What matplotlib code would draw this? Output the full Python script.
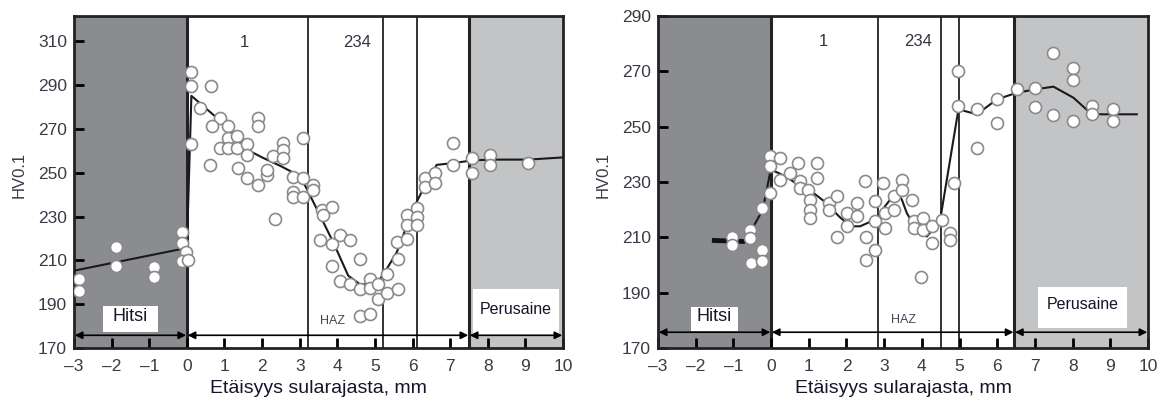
import matplotlib
matplotlib.use("Agg")
import matplotlib.pyplot as plt

plt.rcParams['font.family'] = ['Liberation Sans', 'DejaVu Sans']

# ---------------- data: left chart ----------------
L_pts_x = [-2.87, -2.87, -1.89, -1.89, -0.88, -0.88, -0.14, -0.14, -0.01, -0.14, 0.03,
           0.12, 0.12, 0.12, 0.63, 0.35, 0.88, 0.66, 1.10, 0.88, 1.10, 1.10, 1.32, 1.32,
           1.59, 1.59, 0.61, 1.37, 1.59, 1.88, 1.88, 1.88, 2.12, 2.12, 2.30, 2.56, 2.56,
           2.56, 2.34, 2.83, 2.83, 2.83, 3.09, 3.09, 3.09, 3.36, 3.36, 3.58, 3.85, 3.63,
           3.54, 3.85, 4.07, 4.34, 3.85, 4.60, 4.07, 4.34, 4.60, 4.87, 4.87, 5.09, 5.09,
           5.31, 5.31, 5.62, 4.60, 4.87, 5.58, 5.62, 5.84, 5.84, 5.84, 6.11, 6.11, 6.11,
           6.33, 6.33, 6.60, 6.60, 7.08, 7.08, 7.57, 7.57, 8.06, 8.06, 9.08]
L_pts_y = [201.7, 196.0, 216.0, 207.6, 206.8, 202.6, 222.9, 218.0, 214.0, 209.9, 210.3,
           295.9, 289.7, 262.9, 289.7, 279.4, 275.1, 271.3, 271.3, 261.3, 265.9, 261.3, 266.7, 261.3,
           262.9, 258.3, 253.6, 252.1, 247.5, 275.1, 271.3, 244.4, 249.0, 251.3, 257.5, 263.6, 260.6,
           256.7, 229.0, 248.2, 241.3, 239.0, 265.9, 247.5, 239.0, 244.4, 242.1, 232.9, 234.4, 230.6,
           219.1, 217.5, 221.4, 219.1, 207.6, 210.7, 200.6, 199.1, 196.8, 201.4, 197.6, 199.1, 192.2,
           203.7, 195.3, 196.8, 184.5, 185.3, 218.3, 210.7, 230.6, 226.0, 219.9, 233.7, 229.9, 226.0,
           247.5, 243.7, 249.8, 245.2, 263.6, 253.6, 256.7, 249.8, 258.3, 253.6, 254.4]
L_line_x = [-3.0, -0.14, 0.0, 0.12, 0.74, 1.10, 1.55, 2.0, 2.5, 3.0, 3.18, 3.45, 3.89,
            4.29, 4.60, 5.04, 5.31, 5.58, 6.02, 6.20, 6.64, 7.08, 7.57, 8.06, 9.08, 10.0]
L_line_y = [205.3, 215.2, 216.0, 285.1, 275.9, 269.8, 261.0, 257.0, 253.0, 248.5, 242.9, 233.6, 218.3,
            203.0, 199.1, 199.1, 206.0, 213.7, 233.7, 239.8, 253.6, 254.4, 255.6, 256.0, 256.0, 257.0]
L_bounds = [0.0, 3.22, 5.21, 6.12, 7.5]

# ---------------- data: right chart ----------------
R_pts_x = [-1.04, -1.04, -0.56, -0.56, -0.54, -0.25, -0.25, -0.25, -0.03, -0.03, -0.03,
           0.24, 0.24, 0.50, 0.72, 0.77, 0.77, 0.99, 1.02, 1.02, 1.02, 1.23, 1.23, 1.54,
           1.54, 1.74, 1.74, 2.01, 2.01, 2.27, 2.27, 2.49, 2.51, 2.51, 2.76, 2.76, 2.76,
           2.98, 3.02, 3.02, 3.26, 3.26, 3.47, 3.47, 3.73, 3.78, 3.78, 4.04, 4.04, 3.97,
           4.26, 4.26, 4.53, 4.75, 4.75, 4.84, 4.97, 4.97, 5.46, 5.46, 5.99, 5.99, 6.52,
           7.00, 7.00, 7.49, 7.47, 8.02, 8.02, 8.02, 8.52, 8.52, 9.08, 9.08]
R_pts_y = [210.3, 207.3, 212.8, 209.8, 200.7, 220.6, 205.5, 201.3, 239.3, 235.7, 226.1,
           238.8, 230.9, 233.3, 237.0, 230.3, 227.9, 227.3, 223.6, 220.0, 217.0, 237.0, 231.5, 222.4,
           220.0, 224.8, 210.3, 218.8, 214.0, 222.4, 217.6, 230.3, 210.3, 201.9, 223.0, 215.9, 205.6,
           229.7, 218.8, 213.4, 224.8, 220.0, 230.9, 227.3, 223.6, 215.9, 213.4, 217.0, 212.8, 195.8,
           214.0, 208.0, 216.4, 211.6, 209.1, 229.7, 270.2, 257.5, 256.3, 242.4, 259.9, 251.5, 263.5,
           264.1, 257.3, 276.8, 254.1, 271.4, 266.9, 252.0, 257.5, 254.5, 256.5, 252.0]
R_line_x = [-0.69, -0.22, -0.01, 0.24, 0.50, 0.77, 1.12, 1.45, 1.80, 2.10, 2.36, 2.76,
            3.02, 3.33, 3.47, 3.60, 3.86, 4.13, 4.48, 4.97, 5.46, 5.99, 6.52, 7.00, 7.49,
            8.02, 8.46, 8.73, 9.70]
R_line_y = [208.5, 220.0, 234.5, 233.0, 231.0, 228.5, 226.1, 222.6, 217.6, 214.0, 214.0, 216.4,
            221.2, 226.7, 223.6, 218.8, 212.8, 210.3, 215.9, 256.3, 254.5, 259.9, 262.3, 263.5, 264.5,
            260.5, 255.1, 254.5, 254.5]
R_flat_x = [-1.57, -0.69]
R_flat_y = [208.9, 208.5]
R_bounds = [0.0, 2.83, 4.51, 4.99, 6.45]

x_ticks = list(range(-3, 11))
x_labels = ['\u20133', '\u20132', '\u20131', '0', '1', '2', '3', '4', '5', '6', '7', '8', '9', '10']
L_yticks = [170, 190, 210, 230, 250, 270, 290, 310]
R_yticks = [170, 190, 210, 230, 250, 270, 290]
xlabel = 'Etäisyys sularajasta, mm'
ylabel = 'HV0.1'

DARK = '#8b8c8f'
LIGHT = '#c3c4c6'
TXT = '#3a3a46'

fig = plt.figure(figsize=(11.64, 4.03), dpi=100)
axL = fig.add_axes([0.0636, 0.1365, 0.4201, 0.8235])
axR = fig.add_axes([0.5653, 0.1365, 0.4210, 0.8235])


def draw(ax, ylim, yticks, bounds, px, py, lx, ly, hitsi_box, peru_box, arrow_y,
         haz_xy, one_xy, t234_xy, flat=None):
    ax.set_xlim(-3, 10)
    ax.set_ylim(*ylim)
    ax.axvspan(-3, 0, color=DARK, zorder=0, lw=0)
    ax.axvspan(bounds[-1], 10, color=LIGHT, zorder=0, lw=0)
    for i, b in enumerate(bounds):
        lw = 2.2 if i in (0, len(bounds) - 1) else 1.3
        ax.axvline(b, color='#222222', lw=lw, zorder=1)
    # white label boxes
    ax.add_patch(plt.Rectangle((hitsi_box[0], hitsi_box[2]), hitsi_box[1] - hitsi_box[0],
                               hitsi_box[3] - hitsi_box[2], color='white', zorder=1, lw=0))
    ax.add_patch(plt.Rectangle((peru_box[0], peru_box[2]), peru_box[1] - peru_box[0],
                               peru_box[3] - peru_box[2], color='white', zorder=1, lw=0))
    ax.text((hitsi_box[0] + hitsi_box[1]) / 2, (hitsi_box[2] + hitsi_box[3]) / 2 + 1, 'Hitsi',
            ha='center', va='center', fontsize=13, color='#15152a', zorder=2)
    ax.text((peru_box[0] + peru_box[1]) / 2, (peru_box[2] + peru_box[3]) / 2 + 1, 'Perusaine',
            ha='center', va='center', fontsize=11.5, color='#15152a', zorder=2)
    # arrows
    segs = [(-3, 0), (0, bounds[-1]), (bounds[-1], 10)]
    for a, b in segs:
        ax.annotate('', xy=(b - 0.02, arrow_y), xytext=(a + 0.02, arrow_y),
                    arrowprops=dict(arrowstyle='<|-|>', color='black', lw=1.2,
                                    mutation_scale=11, shrinkA=0, shrinkB=0), zorder=3)
    ax.text(*haz_xy, 'HAZ', ha='center', va='center', fontsize=9, color='#444455', zorder=2)
    ax.text(*one_xy, '1', ha='center', va='center', fontsize=12, color='#333340', zorder=2)
    ax.text(*t234_xy, '234', ha='center', va='center', fontsize=12, color='#333340', zorder=2)
    # data
    ax.plot(lx, ly, color='#1a1a1a', lw=1.5, zorder=4)
    if flat is not None:
        ax.plot(flat[0], flat[1], color='#111111', lw=3.5, zorder=4, solid_capstyle='butt')
    ax.scatter(px, py, s=75, facecolor='white', edgecolor='#8a8a8a', linewidths=1.2, zorder=5)
    ax.set_xticks(x_ticks)
    ax.set_xticklabels(x_labels)
    ax.set_yticks(yticks)
    ax.tick_params(direction='in', length=7, width=2, labelsize=12.5, colors='black',
                   labelcolor=TXT, top=False, right=False)
    ax.tick_params(axis='x', pad=8)
    ax.tick_params(axis='y', pad=5)
    for s in ax.spines.values():
        s.set_linewidth(2)
        s.set_color('#222222')
    ax.set_xlabel(xlabel, fontsize=14, color='#15152a', labelpad=4)
    ax.set_ylabel(ylabel, fontsize=12, color=TXT)
    ax.yaxis.set_label_coords(-0.097, 0.52)


draw(axL, (170, 321.5), L_yticks, L_bounds, L_pts_x, L_pts_y, L_line_x, L_line_y,
     (-2.23, -0.77, 177.3, 189.3), (7.6, 9.9, 176.0, 197.1), 175.8,
     (3.86, 182.3), (1.54, 309.5), (4.52, 309.5))
draw(axR, (170, 290), R_yticks, R_bounds, R_pts_x, R_pts_y, R_line_x, R_line_y,
     (-2.12, -0.88, 176.0, 185.0), (7.08, 9.43, 177.1, 192.2), 175.7,
     (3.51, 180.1), (1.39, 281.0), (3.91, 281.0), flat=(R_flat_x, R_flat_y))

fig.savefig('out.png', dpi=100)
